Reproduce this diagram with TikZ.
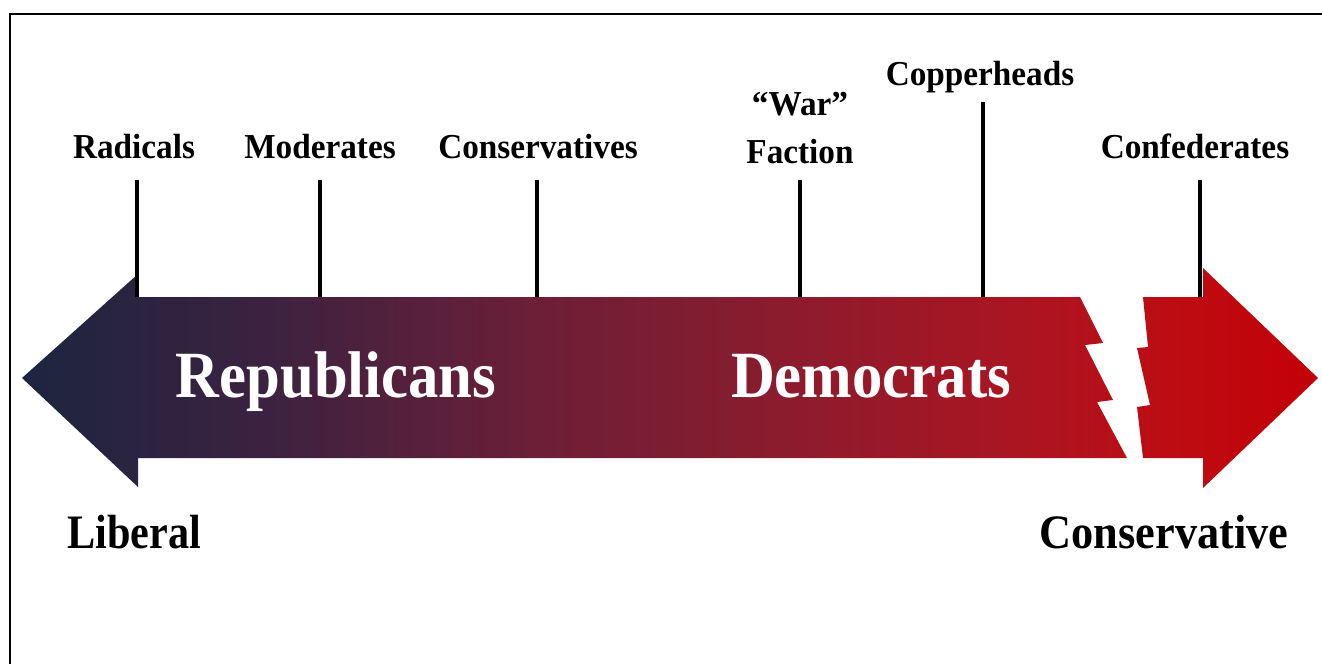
\documentclass[tikz,border=0pt]{standalone}
\usepackage{fontspec}
\setmainfont{Liberation Serif}
\usetikzlibrary{calc}

\definecolor{navyend}{RGB}{28,37,64}
\definecolor{plumA}{RGB}{60,34,64}
\definecolor{plumB}{RGB}{106,31,56}
\definecolor{wine}{RGB}{138,28,46}
\definecolor{crimson}{RGB}{170,21,34}
\definecolor{redA}{RGB}{190,12,18}
\definecolor{redend}{RGB}{194,0,8}

\pgfdeclarehorizontalshading{partyshade}{100bp}{color(0bp)=(navyend); color(25bp)=(navyend); color(34.5bp)=(plumA); color(44.2bp)=(plumB); color(54bp)=(wine); color(63.2bp)=(crimson); color(69.5bp)=(redA); color(75bp)=(redend); color(100bp)=(redend)}

\tikzset{
  faction/.style={anchor=base,inner sep=0pt,font=\fontsize{35}{40}\selectfont\bfseries,xscale=.95},
  party/.style={anchor=base,inner sep=0pt,text=white,font=\fontsize{66}{72}\selectfont\bfseries,xscale=.92},
  side/.style={anchor=base,inner sep=0pt,font=\fontsize{48}{54}\selectfont\bfseries,xscale=.88},
  tick/.style={black,line width=4pt}
}

\begin{document}
\begin{tikzpicture}[x=1pt,y=-1pt]
\useasboundingbox (0,0) rectangle (1322,664);
\fill[white] (0,0) rectangle (1322,664);

\draw[black,line width=2pt] (1322,14) -- (10,14) -- (10,664);

% broken arrow, shaded once over both pieces
\begin{scope}
\clip (22,378) -- (138,274) -- (138,297) -- (1080,297) -- (1103,343) -- (1085,345) -- (1113,400) -- (1097,402) -- (1127,458) -- (138,458) -- (138,487) -- cycle
      (1143,297) -- (1203,297) -- (1203,268) -- (1318,378) -- (1203,488) -- (1203,458) -- (1143,458) -- (1137,407) -- (1150,405) -- (1137,348) -- (1148,347) -- cycle;
\shade[shading=partyshade] (22,268) rectangle (1318,488);
\end{scope}

\coordinate (bartop) at (0,297);

\node[party] (republicans) at (336,397) {Republicans};
\node[party] (democrats) at (871,397) {Democrats};

\node[side] (liberal) at (134,548) {Liberal};
\node[side,xscale=1.05] (conservative) at (1164,548) {Conservative};

\node[faction] (radicals) at (134,158) {Radicals};
\node[faction] (moderates) at (320,158) {Moderates};
\node[faction] (conservatives) at (538,158) {Conservatives};
\node[faction] (war) at (800,115) {“War”};
\node[faction] (factionname) at (800,163) {Faction};
\node[faction] (copperheads) at (980,85) {Copperheads};
\node[faction] (confederates) at (1195,158) {Confederates};

\coordinate (radicals-top) at (137,180);
\coordinate (moderates-top) at (320,180);
\coordinate (conservatives-top) at (537,180);
\coordinate (war-top) at (800,180);
\coordinate (copperheads-top) at (983,102);
\coordinate (confederates-top) at (1200,180);

\draw[tick] (radicals-top) -- (radicals-top |- bartop);
\draw[tick] (moderates-top) -- (moderates-top |- bartop);
\draw[tick] (conservatives-top) -- (conservatives-top |- bartop);
\draw[tick] (war-top) -- (war-top |- bartop);
\draw[tick] (copperheads-top) -- (copperheads-top |- bartop);
\draw[tick] (confederates-top) -- (confederates-top |- bartop);

\end{tikzpicture}
\end{document}
